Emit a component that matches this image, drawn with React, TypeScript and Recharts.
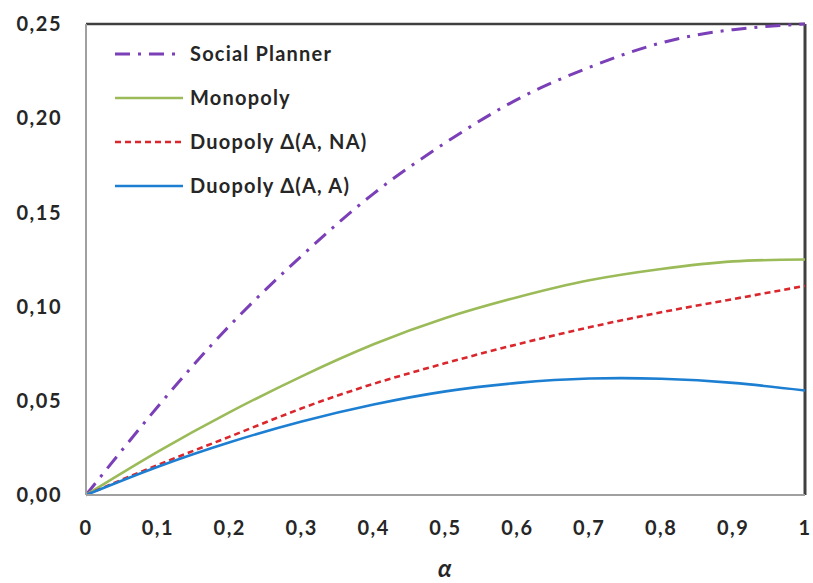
import { LineChart, Line, XAxis, YAxis, ReferenceLine, Legend } from 'recharts';

const alphaValues = [0, 0.1, 0.2, 0.3, 0.4, 0.5, 0.6, 0.7, 0.8, 0.9, 1];
const socialPlanner = [0, 0.047, 0.09, 0.127, 0.16, 0.187, 0.21, 0.227, 0.24, 0.247, 0.25];
const monopoly = [0, 0.023, 0.044, 0.063, 0.08, 0.094, 0.105, 0.114, 0.12, 0.124, 0.125];
const duopolyANA = [0, 0.016, 0.031, 0.046, 0.059, 0.07, 0.08, 0.089, 0.097, 0.104, 0.111];
const duopolyAA = [0, 0.015, 0.028, 0.039, 0.048, 0.055, 0.0595, 0.0618, 0.0617, 0.0595, 0.0555];

const xTicks = [0, 0.1, 0.2, 0.3, 0.4, 0.5, 0.6, 0.7, 0.8, 0.9, 1];
const yTicks = [0, 0.05, 0.1, 0.15, 0.2, 0.25];

const series = [
  { key: 'sp', name: 'Social Planner', color: '#7b3fb8', dash: '15 8 3 8', width: 3 },
  { key: 'mono', name: 'Monopoly', color: '#9bbb59', dash: undefined, width: 2.6 },
  { key: 'ana', name: 'Duopoly \u0394(A, NA)', color: '#d9272d', dash: '6 4', width: 2.6 },
  { key: 'aa', name: 'Duopoly \u0394(A, A)', color: '#1d7fd2', dash: undefined, width: 2.6 },
];

const data = alphaValues.map((a, i) => ({
  alpha: a,
  sp: socialPlanner[i],
  mono: monopoly[i],
  ana: duopolyANA[i],
  aa: duopolyAA[i],
}));

const font = 'Lato, "Open Sans", sans-serif';
const tickStyle = { fontFamily: font, fontSize: 20, fontWeight: 700, fill: '#262626', letterSpacing: 1.5 };

const fmtX = (v: number) => (v === 0 ? '0' : v === 1 ? '1' : v.toFixed(1).replace('.', ','));
const fmtY = (v: number) => v.toFixed(2).replace('.', ',');

function LegendBox() {
  return (
    <svg width={280} height={180}>
      {series.map((s, i) => {
        const y = 16 + i * 44;
        return (
          <g key={s.key}>
            <line x1={3} x2={71} y1={y} y2={y} stroke={s.color} strokeWidth={s.width} strokeDasharray={s.dash} />
            <text x={78} y={y} dy="0.35em" style={{ ...tickStyle, fontSize: 20, letterSpacing: 1.2 }}>
              {s.name}
            </text>
          </g>
        );
      })}
    </svg>
  );
}

export default function App() {
  return (
    <div style={{ position: 'absolute', left: 0, top: 0, background: '#fff' }}>
      <LineChart width={813} height={583} data={data} margin={{ top: 24, right: 8, left: 0, bottom: 0 }}>
        <XAxis
          dataKey="alpha"
          type="number"
          domain={[0, 1]}
          ticks={xTicks}
          tickFormatter={fmtX}
          tick={tickStyle}
          tickLine={false}
          tickMargin={20}
          height={88}
          stroke="#a0a0a0"
          strokeWidth={2}
          label={{ value: '\u03b1', position: 'insideBottom', offset: 6, style: { ...tickStyle, fontSize: 24, fontStyle: 'italic' } }}
        />
        <YAxis
          type="number"
          domain={[0, 0.25]}
          ticks={yTicks}
          tickFormatter={fmtY}
          tick={tickStyle}
          tickLine={false}
          tickMargin={18}
          width={86}
          stroke="#a0a0a0"
          strokeWidth={2}
        />
        <ReferenceLine y={0.25} stroke="#404040" strokeWidth={2.5} />
        <ReferenceLine x={1} stroke="#404040" strokeWidth={3} />
        <Legend
          layout="vertical"
          align="center"
          verticalAlign="middle"
          wrapperStyle={{ left: 112, top: 38, width: 280 }}
          content={() => <LegendBox />}
        />
        {series.map((s) => (
          <Line
            key={s.key}
            dataKey={s.key}
            name={s.name}
            type="natural"
            stroke={s.color}
            strokeWidth={s.width}
            strokeDasharray={s.dash}
            dot={false}
            isAnimationActive={false}
          />
        ))}
      </LineChart>
    </div>
  );
}
